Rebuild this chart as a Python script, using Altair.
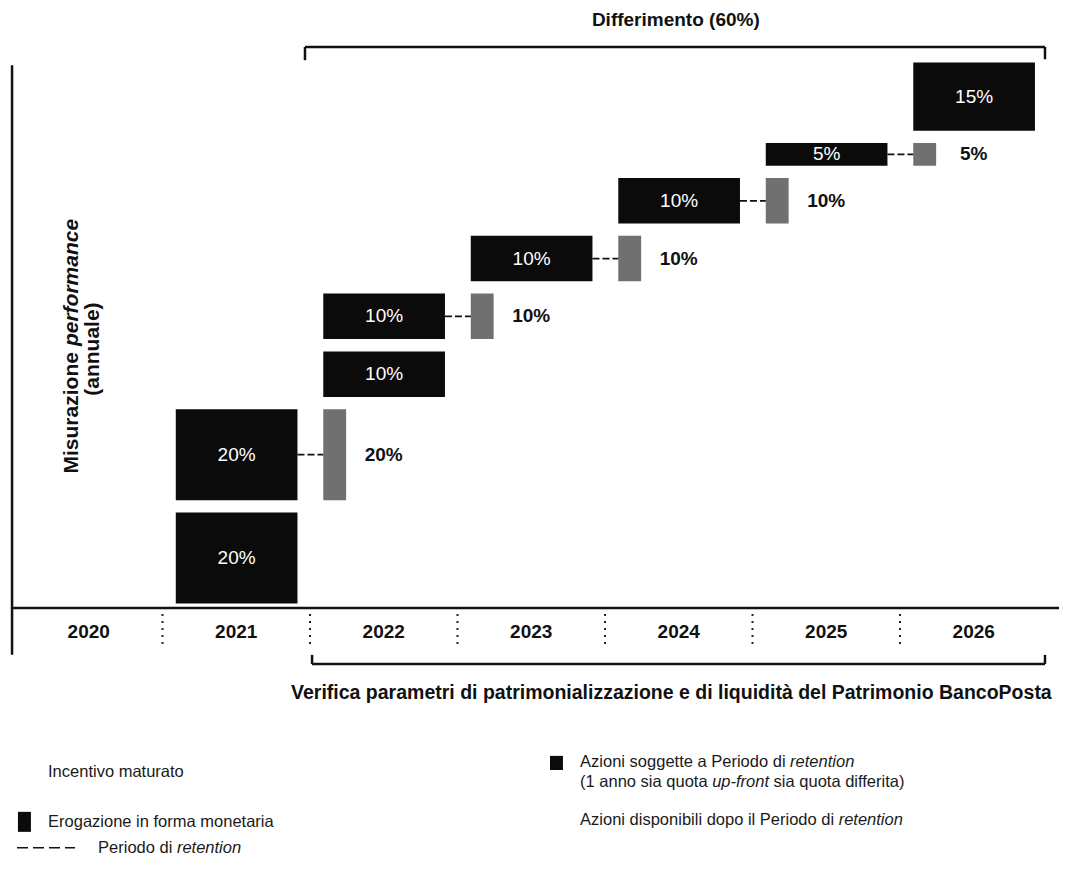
import altair as alt
import pandas as pd

# ---------------- data ----------------
years = ["2020", "2021", "2022", "2023", "2024", "2025", "2026"]
bar_year = ["2021", "2021", "2022", "2022", "2023", "2024", "2025", "2026"]
bar_pct = [20, 20, 10, 10, 10, 10, 5, 15]
bar_kind = ["cash", "shares", "cash", "shares", "shares", "shares", "shares", "cash"]

title_text = "Differimento (60%)"
caption_text = "Verifica parametri di patrimonializzazione e di liquidità del Patrimonio BancoPosta"

# ---------------- layout constants ----------------
W, H = 1051, 865
PX_X = 147.5      # pixels per year column
PX_Y = 4.55       # pixels per percentage point
XMIN, XMAX = -7 / PX_X, (W - 7) / PX_X
YMIN, YMAX = (600 - H) / PX_Y, 600 / PX_Y
GAP = 2.7         # vertical gap between stacked blocks (in % units)
START = 1.0
FONT = "Liberation Sans"

XS = alt.Scale(domain=[XMIN, XMAX], nice=False, zero=False)
YS = alt.Scale(domain=[YMIN, YMAX], nice=False, zero=False)


def X(f="x"):
    return alt.X(f"{f}:Q", scale=XS, axis=None)


def Y(f="y"):
    return alt.Y(f"{f}:Q", scale=YS, axis=None)


# ---------------- bars ----------------
rows = []
pos = START
for yr, p, k in zip(bar_year, bar_pct, bar_kind):
    col = years.index(yr)
    rows.append(dict(year=yr, pct=p, kind=k, col=col,
                     x=col + 0.09, x2=col + 0.915, y=pos, y2=pos + p,
                     ym=pos + p / 2, label=f"{p}%"))
    pos += p + GAP
bars = pd.DataFrame(rows)
shares = bars[bars.kind == "shares"].copy()
shares["bx"] = shares.col + 1.09
shares["bx2"] = shares.col + 1.245
shares["cx"] = shares.col + 0.915
shares["lx"] = shares.col + 1.5

bar_rects = alt.Chart(bars).mark_rect(color="#0b0b0b").encode(
    x=X("x"), x2="x2", y=Y("y"), y2="y2")
bar_text = alt.Chart(bars).mark_text(color="white", fontSize=19, font=FONT,
                                     baseline="middle").encode(
    x=alt.X("xc:Q", scale=XS, axis=None), y=Y("ym"), text="label:N"
).transform_calculate(xc="(datum.x + datum.x2) / 2")

box_rects = alt.Chart(shares).mark_rect(color="#707070").encode(
    x=X("bx"), x2="bx2", y=Y("y"), y2="y2")
connectors = alt.Chart(shares).mark_rule(color="#111", strokeWidth=1.8,
                                         strokeDash=[7, 3]).encode(
    x=X("cx"), x2="bx", y=Y("ym"))
side_labels = alt.Chart(shares).mark_text(color="#111", fontSize=19, font=FONT,
                                          fontWeight="bold", baseline="middle").encode(
    x=X("lx"), y=Y("ym"), text="label:N")

# ---------------- axes / frame ----------------
axis_lines = pd.DataFrame([
    dict(x=-0.02, x2=-0.02, y=-10.3, y2=119.3),   # vertical axis
    dict(x=-0.02, x2=XMAX, y=0, y2=0),            # time axis
])
frame = alt.Chart(axis_lines).mark_rule(color="#111", strokeWidth=2.5).encode(
    x=X("x"), x2="x2", y=Y("y"), y2="y2")

seps = pd.DataFrame(dict(x=list(range(1, 7)), y=-1.3, y2=-8.8))
sep_rules = alt.Chart(seps).mark_rule(color="#222", strokeWidth=2,
                                      strokeDash=[2, 5]).encode(
    x=X("x"), y=Y("y"), y2="y2")

yr_df = pd.DataFrame(dict(year=years, x=[i + 0.5 for i in range(len(years))], y=-5.3))
yr_text = alt.Chart(yr_df).mark_text(fontSize=19, fontWeight="bold", font=FONT,
                                     color="#111", baseline="middle").encode(
    x=X("x"), y=Y("y"), text="year:N")

brackets = pd.DataFrame([
    dict(x=1.966, x2=6.983, y=123.3, y2=123.3),
    dict(x=1.966, x2=1.966, y=123.3, y2=120.4),
    dict(x=6.983, x2=6.983, y=123.3, y2=120.6),
    dict(x=2.014, x2=6.983, y=-12.3, y2=-12.3),
    dict(x=2.014, x2=2.014, y=-12.3, y2=-10.3),
    dict(x=6.983, x2=6.983, y=-12.3, y2=-10.3),
])
bracket_rules = alt.Chart(brackets).mark_rule(color="#111", strokeWidth=2.5).encode(
    x=X("x"), x2="x2", y=Y("y"), y2="y2")

title_mark = alt.Chart(pd.DataFrame([dict(t=title_text, x=4.48, y=129.2)])).mark_text(
    fontSize=19, fontWeight="bold", font=FONT, color="#111", baseline="middle").encode(
    x=X("x"), y=Y("y"), text="t:N")
caption_mark = alt.Chart(pd.DataFrame([dict(t=caption_text, x=4.45, y=-18.7)])).mark_text(
    fontSize=19.5, fontWeight="bold", font=FONT, color="#111", baseline="middle").encode(
    x=X("x"), y=Y("y"), text="t:N")

# rotated axis title with italic word
YT_SIZE = 21
yt_a = alt.Chart(pd.DataFrame([dict(t="Misurazione", x=0.386, y=56.9)])).mark_text(
    fontSize=YT_SIZE, fontWeight="bold", font=FONT, angle=270, align="right",
    baseline="middle", dx=-3, color="#111").encode(x=X("x"), y=Y("y"), text="t:N")
yt_b = alt.Chart(pd.DataFrame([dict(t="performance", x=0.386, y=56.9)])).mark_text(
    fontSize=YT_SIZE, fontWeight="bold", fontStyle="italic", font=FONT, angle=270,
    align="left", baseline="middle", dx=3, color="#111").encode(
    x=X("x"), y=Y("y"), text="t:N")
yt_c = alt.Chart(pd.DataFrame([dict(t="(annuale)", x=0.529, y=56.9)])).mark_text(
    fontSize=YT_SIZE, fontWeight="bold", font=FONT, angle=270, align="center",
    baseline="middle", color="#111").encode(x=X("x"), y=Y("y"), text="t:N")

# ---------------- legend ----------------
LEG_SIZE = 16.5
ARIAL = {' ': 278, '(': 333, ')': 333, '-': 333, '1': 556, 'A': 667, 'E': 667,
         'I': 278, 'P': 667, 'a': 556, 'b': 556, 'c': 500, 'd': 556, 'e': 556,
         'f': 278, 'g': 556, 'h': 556, 'i': 222, 'l': 222, 'm': 833, 'n': 556,
         'o': 556, 'p': 556, 'q': 556, 'r': 333, 's': 500, 't': 278, 'u': 556,
         'v': 500, 'z': 500}


def tw(s):
    return sum(ARIAL.get(c, 556) for c in s) / 1000 * LEG_SIZE / PX_X


legend_lines = [
    (0.224, -36.0, [("Incentivo maturato", "normal")]),
    (0.224, -47.0, [("Erogazione in forma monetaria", "normal")]),
    (0.563, -52.7, [("Periodo di ", "normal"), ("retention", "italic")]),
    (3.831, -33.8, [("Azioni soggette a Periodo di ", "normal"), ("retention", "italic")]),
    (3.831, -38.2, [("(1 anno sia quota ", "normal"), ("up-front", "italic"),
                    (" sia quota differita)", "normal")]),
    (3.831, -46.6, [("Azioni disponibili dopo il Periodo di ", "normal"),
                    ("retention", "italic")]),
]
seg_rows = []
for x0, yy, parts in legend_lines:
    cx = x0
    for txt, st in parts:
        lead = len(txt) - len(txt.lstrip(" "))
        cx += tw(" " * lead)
        seg_rows.append(dict(t=txt.strip(), x=cx, y=yy, style=st))
        cx += tw(txt.lstrip(" "))
segs = pd.DataFrame(seg_rows)
leg_norm = alt.Chart(segs[segs["style"] == "normal"]).mark_text(
    fontSize=LEG_SIZE, font=FONT, align="left", baseline="middle", color="#1a1a1a").encode(
    x=X("x"), y=Y("y"), text="t:N")
leg_ital = alt.Chart(segs[segs["style"] == "italic"]).mark_text(
    fontSize=LEG_SIZE, font=FONT, fontStyle="italic", align="left", baseline="middle",
    color="#1a1a1a").encode(x=X("x"), y=Y("y"), text="t:N")

leg_sq = pd.DataFrame([
    dict(x=0.020, x2=0.108, y=-44.8, y2=-49.2),
    dict(x=3.627, x2=3.715, y=-32.5, y2=-35.6),
])
leg_rects = alt.Chart(leg_sq).mark_rect(color="#0b0b0b").encode(
    x=X("x"), x2="x2", y=Y("y"), y2="y2")
leg_dash = alt.Chart(pd.DataFrame([dict(x=0.0136, x2=0.407, y=-52.7)])).mark_rule(
    color="#111", strokeWidth=1.5, strokeDash=[11, 5]).encode(
    x=X("x"), x2="x2", y=Y("y"))

chart = alt.layer(
    frame, sep_rules, bracket_rules,
    bar_rects, box_rects, connectors, bar_text, side_labels,
    yr_text, title_mark, caption_mark, yt_a, yt_b, yt_c,
    leg_rects, leg_dash, leg_norm, leg_ital,
).properties(
    width=W, height=H, padding=0,
    autosize=alt.AutoSizeParams(type="none"),
    background="white",
).configure_view(stroke=None)

chart.save("out.html", embed_options={"renderer": "svg", "actions": False})
